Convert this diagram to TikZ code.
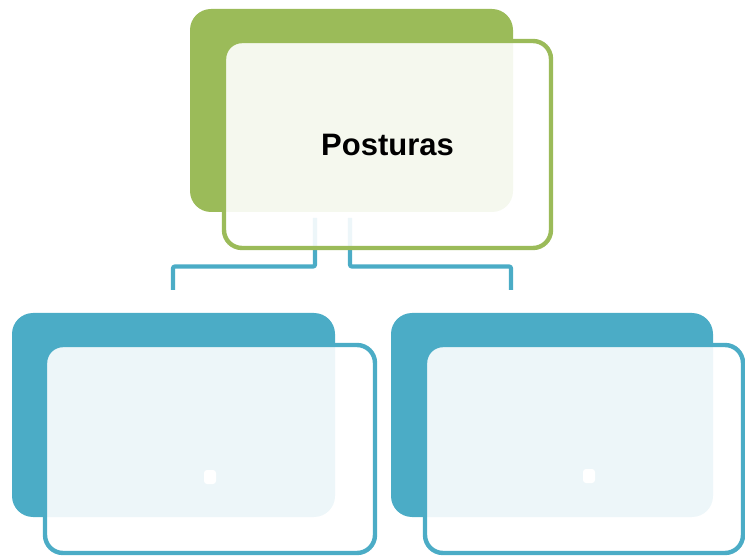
\documentclass[tikz,border=0pt]{standalone}
\usepackage{fontspec}
\setmainfont{Liberation Sans}
\definecolor{ogreen}{HTML}{9BBB59}
\definecolor{oblue}{HTML}{4BACC6}
\tikzset{
  backbox/.style={rectangle, rounded corners=21pt, inner sep=0pt, draw=none},
  frontbox/.style={rectangle, rounded corners=18pt, inner sep=0pt, line width=4.4pt, fill=white, fill opacity=0.9, text opacity=1},
  link/.style={draw=oblue, line width=4.2pt, rounded corners=2pt},
  dotbox/.style={rectangle, rounded corners=3pt, fill=white, minimum width=12pt, minimum height=14pt, inner sep=0pt},
}
\begin{document}
\begin{tikzpicture}[x=1pt,y=-1pt]
\useasboundingbox (0,0) rectangle (745,556);
% top group
\node[backbox, fill=ogreen, minimum width=323pt, minimum height=203pt] (topback) at (351.5,110.5) {};
\coordinate (t1) at (315,218);
\coordinate (t2) at (350,218);
\coordinate (e1) at (173,290);
\coordinate (e2) at (511,290);
\draw[link] (t1) -- ++(0,48.5) -| (e1);
\draw[link] (t2) -- ++(0,48.5) -| (e2);
\node[frontbox, draw=ogreen, minimum width=327pt, minimum height=207pt,
      font=\fontsize{31}{36}\selectfont\bfseries] (topfront) at (387.5,144.5) {Posturas};
% bottom left
\node[backbox, fill=oblue, minimum width=323pt, minimum height=204pt] (lback) at (173.5,415) {};
\node[frontbox, draw=oblue, minimum width=330pt, minimum height=208pt] (lfront) at (210,449) {};
\node[dotbox] (ldot) at (210,477) {};
% bottom right
\node[backbox, fill=oblue, minimum width=322pt, minimum height=204pt] (rback) at (552,415) {};
\node[frontbox, draw=oblue, minimum width=318pt, minimum height=208pt] (rfront) at (584,449) {};
\node[dotbox] (rdot) at (589,476) {};
\end{tikzpicture}
\end{document}
